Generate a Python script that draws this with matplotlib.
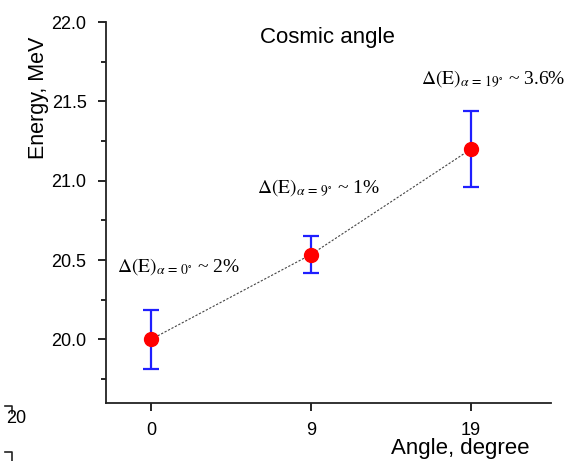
import matplotlib
matplotlib.use("Agg")
import matplotlib.pyplot as plt
from matplotlib.ticker import MultipleLocator

plt.rcParams['font.family'] = ['Liberation Sans', 'DejaVu Sans']
plt.rcParams['mathtext.fontset'] = 'stix'

# data
angles = ['0', '9', '19']
energy = [20.0, 20.535, 21.2]
energy_err = [0.185, 0.115, 0.24]
spread_angle = ['0', '9', '19']
spread_pct = ['2%', '1%', '3.6%']

fig = plt.figure(figsize=(5.67, 4.61), dpi=100)
ax = fig.add_axes([0.187, 0.126, 0.785, 0.826])

xpos = list(range(len(angles)))

ax.plot(xpos, energy, ls=(0, (2, 1.5)), color='#444444', lw=0.8, zorder=1)
ax.errorbar(xpos, energy, yerr=energy_err, fmt='none', ecolor='#1f1fff',
            elinewidth=1.6, capsize=5.5, capthick=1.6, zorder=2)
ax.plot(xpos, energy, 'o', color='#ff0000', ms=10, zorder=3)

# annotations (text offsets relative to each point)
offsets = [(-0.21, 0.46), (-0.335, 0.425), (-0.31, 0.445)]
for i, (a, p) in enumerate(zip(spread_angle, spread_pct)):
    label = r'$\Delta(\mathrm{E})_{\alpha\,=\,' + a + r'^{\circ}}$ ~ ' + p
    ax.text(xpos[i] + offsets[i][0], energy[i] + offsets[i][1], label,
            fontsize=14, family='Liberation Serif', va='center', ha='left')

ax.text(0.498, 0.96, 'Cosmic angle', transform=ax.transAxes, fontsize=16,
        ha='center', va='center')

ax.set_xlim(-0.28, 2.5)
ax.set_ylim(19.6, 22.0)
ax.set_xticks(xpos)
ax.set_xticklabels(angles)
ax.yaxis.set_major_locator(MultipleLocator(0.5))
ax.yaxis.set_minor_locator(MultipleLocator(0.25))
ax.yaxis.set_major_formatter(matplotlib.ticker.FormatStrFormatter('%.1f'))

for s in ['top', 'right']:
    ax.spines[s].set_visible(False)
for s in ['left', 'bottom']:
    ax.spines[s].set_linewidth(1.3)
    ax.spines[s].set_color('#222222')
ax.tick_params(which='major', length=6, width=1.2, labelsize=13, pad=8)
ax.tick_params(which='minor', length=3.5, width=1.2)

ax.set_ylabel('Energy, MeV', fontsize=15.5)
ax.yaxis.set_label_coords(-0.128, 0.80)
ax.set_xlabel('Angle, degree', fontsize=16)
ax.xaxis.set_label_coords(0.795, -0.092)

# fragments of the neighbouring panel at the left edge
fig.text(0.01, 0.093, '20', fontsize=13, va='center', ha='left')
fig.add_artist(plt.Line2D([0.008, 0.022, 0.022], [0.12, 0.12, 0.105],
                          transform=fig.transFigure, color='#222222', lw=1.2))
fig.add_artist(plt.Line2D([0.008, 0.022, 0.022], [0.02, 0.02, 0.0],
                          transform=fig.transFigure, color='#222222', lw=1.2))

fig.savefig('out.png', dpi=100)
